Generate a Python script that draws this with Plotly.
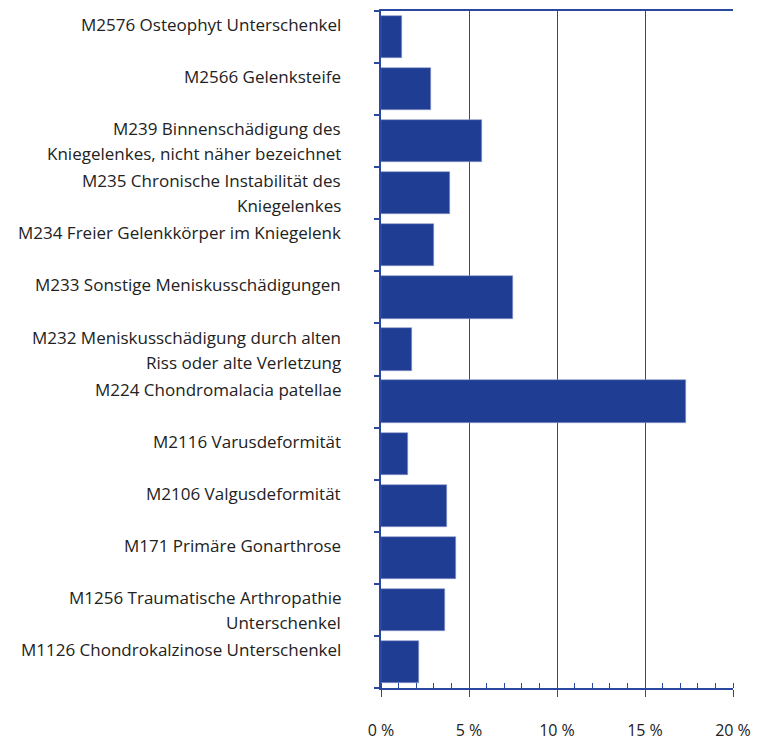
import plotly.graph_objects as go

labels = [
    "M2576 Osteophyt Unterschenkel",
    "M2566 Gelenksteife",
    "M239 Binnenschädigung des\nKniegelenkes, nicht näher bezeichnet",
    "M235 Chronische Instabilität des\nKniegelenkes",
    "M234 Freier Gelenkkörper im Kniegelenk",
    "M233 Sonstige Meniskusschädigungen",
    "M232 Meniskusschädigung durch alten\nRiss oder alte Verletzung",
    "M224 Chondromalacia patellae",
    "M2116 Varusdeformität",
    "M2106 Valgusdeformität",
    "M171 Primäre Gonarthrose",
    "M1256 Traumatische Arthropathie\nUnterschenkel",
    "M1126 Chondrokalzinose Unterschenkel",
]
values = [1.18, 2.82, 5.76, 3.9, 3.0, 7.5, 1.76, 17.31, 1.56, 3.75, 4.28, 3.64, 2.18]
x_ticks = [0, 5, 10, 15, 20]
x_ticktext = ["0 %", "5 %", "10 %", "15 %", "20 %"]

BLUE = "#1e3d93"
AXIS = "#2b48a0"
TEXT = "#222222"
FONT = "Open Sans"

n = len(labels)
ypos = list(range(n))

fig = go.Figure()
fig.add_trace(go.Bar(
    x=values, y=ypos, orientation="h",
    marker=dict(color=BLUE, line=dict(color="#8d9bcc", width=0.6)),
    width=0.81, hoverinfo="x+y",
))

annotations = []
for i, lab in enumerate(labels):
    lines = lab.split("\n")
    for j, line in enumerate(lines):
        annotations.append(dict(
            x=0, xref="paper", xshift=-38, xanchor="right",
            y=i, yref="y", yanchor="middle", yshift=12.5 - 25 * j,
            text=line, showarrow=False, align="right",
            font=dict(family=FONT, size=17, color=TEXT),
        ))

fig.update_layout(
    width=752, height=734,
    margin=dict(l=373, r=27, t=1, b=49),
    paper_bgcolor="white", plot_bgcolor="white",
    showlegend=False, bargap=0,
    annotations=annotations,
    font=dict(family=FONT, size=16, color=TEXT),
)
fig.update_xaxes(
    range=[0, 20], tickvals=x_ticks, ticktext=x_ticktext,
    showgrid=True, gridcolor=AXIS, gridwidth=1,
    showline=True, linecolor=AXIS, linewidth=1.5, mirror=True,
    ticks="outside", ticklen=7, tickcolor=AXIS, tickwidth=1,
    ticklabelstandoff=20,
    minor=dict(dtick=1, ticks="inside", ticklen=5, tickcolor=AXIS, tickwidth=1, showgrid=False),
    zeroline=False,
    tickfont=dict(family=FONT, size=16, color=TEXT),
)
fig.update_yaxes(
    range=[n - 0.5, -0.5],
    tickvals=[k - 0.5 for k in range(n + 1)], showticklabels=False,
    ticks="outside", ticklen=5, tickcolor=AXIS, tickwidth=1.5,
    showgrid=False, showline=True, linecolor=AXIS, linewidth=1.5,
    zeroline=False,
)

fig.write_html("out.html")
